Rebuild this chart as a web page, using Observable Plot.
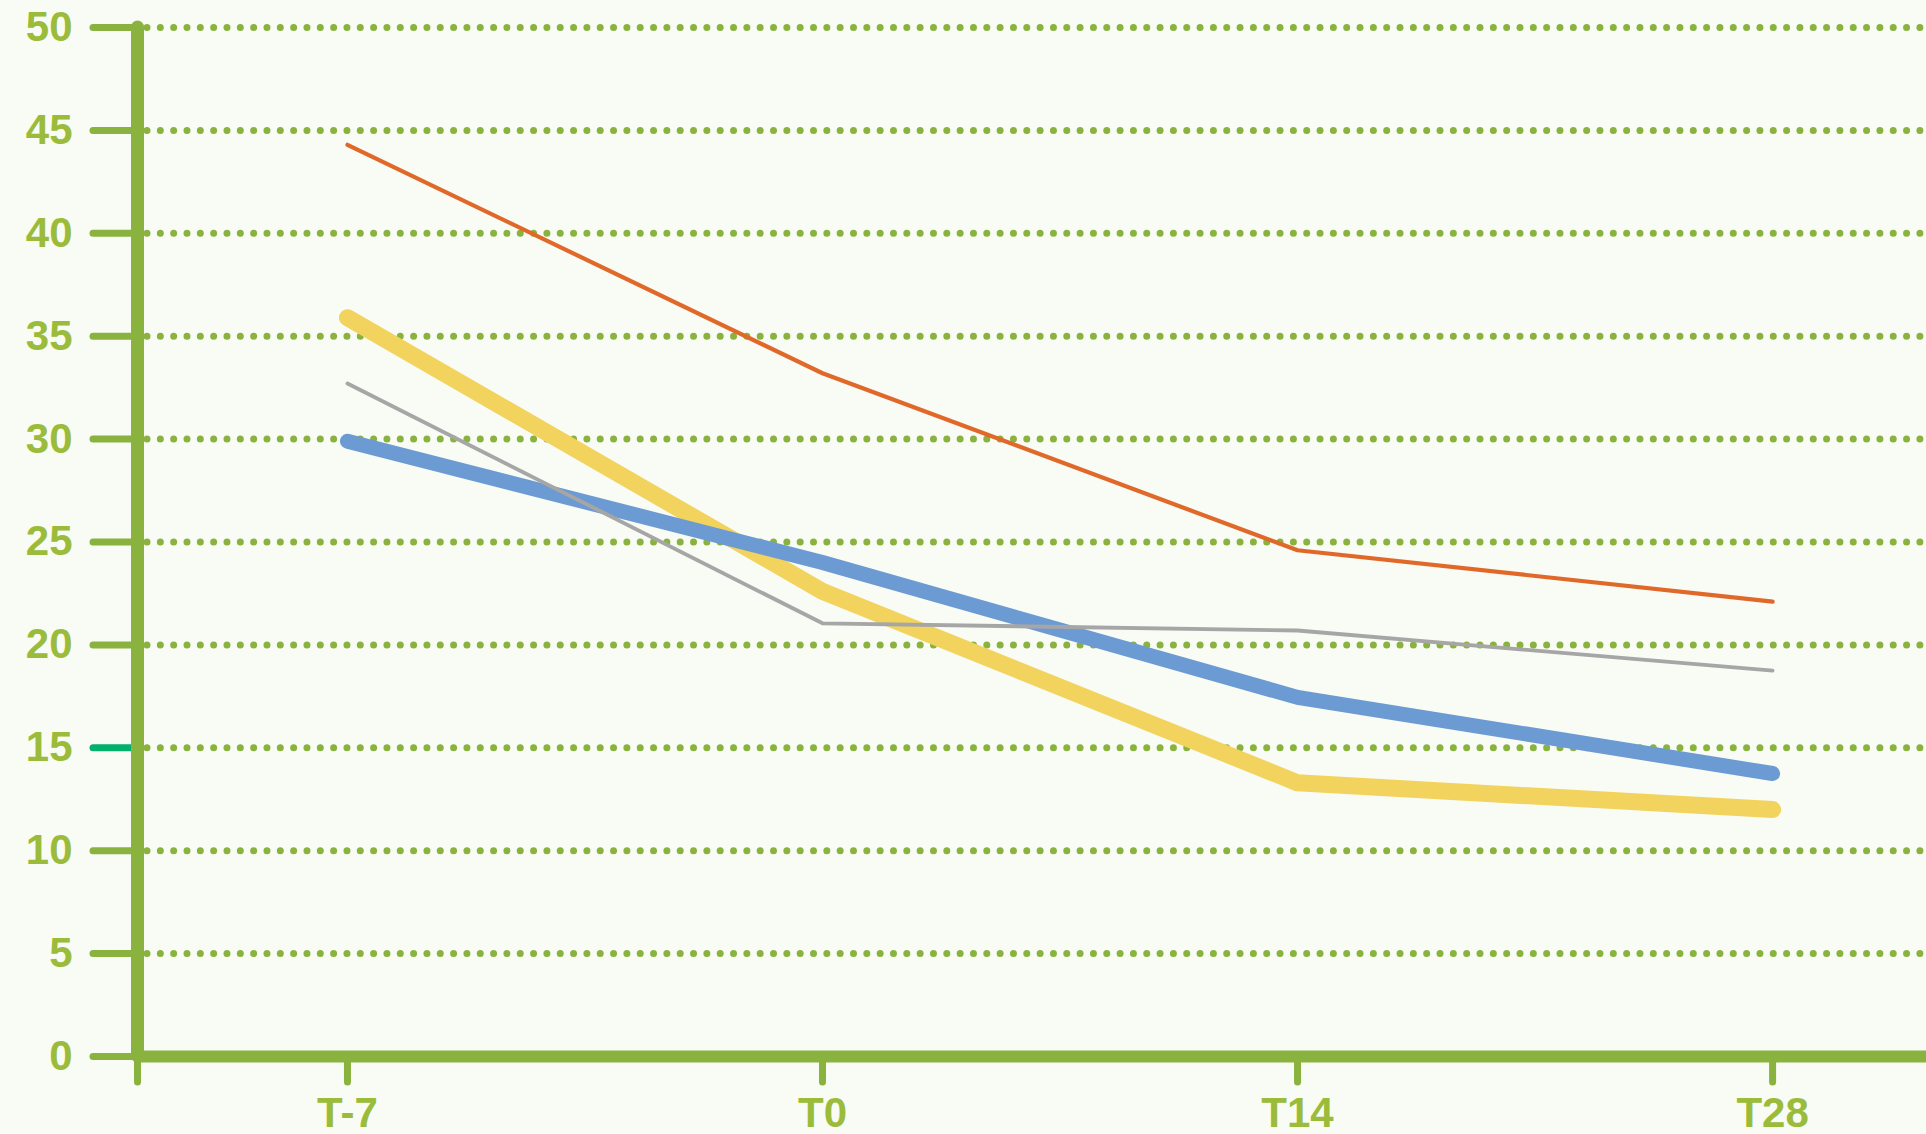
<!DOCTYPE html>
<html>
<head>
<meta charset="utf-8">
<script src="https://cdn.jsdelivr.net/npm/d3@7"></script>
<script src="https://cdn.jsdelivr.net/npm/@observablehq/plot@0.6"></script>
<style>
  html, body { margin: 0; padding: 0; background: #f9fbf5; overflow: hidden; }
  #chart svg { display: block; }
</style>
</head>
<body>
<div id="chart"></div>
<script>
// ---- data ----
const categories = ["T-7", "T0", "T14", "T28"];
const seriesOrange = [44.3, 33.2, 24.6, 22.1];
const seriesGray   = [32.7, 21.05, 20.7, 18.75];
const seriesYellow = [35.9, 22.6, 13.3, 12.0];
const seriesBlue   = [29.9, 24.0, 17.45, 13.75];
const yTicks = [0, 5, 10, 15, 20, 25, 30, 35, 40, 45, 50];
const highlightTick = 15;

// ---- styling ----
const axisGreen = "#89b33e";
const labelGreen = "#9abc3a";
const tealTick = "#00b06b";
const font = "'Liberation Sans', Arial, sans-serif";

const xMin = -0.442, xMax = 3.324;

const toRows = (vals) => vals.map((v, i) => ({ i, v }));

const plot = Plot.plot({
  width: 1926,
  height: 1134,
  marginLeft: 137,
  marginRight: 0,
  marginTop: 27,
  marginBottom: 78,
  style: { background: "#f9fbf5", fontFamily: font, overflow: "visible" },
  x: { type: "linear", domain: [xMin, xMax] },
  y: { type: "linear", domain: [0, 50] },
  marks: [
    // dotted gridlines
    Plot.ruleY(yTicks.filter(d => d > 0), {
      stroke: axisGreen, strokeWidth: 7, strokeDasharray: "0 13.33",
      strokeLinecap: "round", strokeDashoffset: -10
    }),
    // y tick marks
    Plot.axisY({
      ticks: yTicks.filter(d => d !== highlightTick), tickSize: 44, text: null,
      stroke: axisGreen, strokeWidth: 7, strokeLinecap: "round", label: null
    }),
    Plot.axisY({
      ticks: [highlightTick], tickSize: 44, text: null,
      stroke: tealTick, strokeWidth: 7, strokeLinecap: "round", label: null
    }),
    // y tick labels
    Plot.axisY({
      ticks: yTicks, tickSize: 0, tickPadding: 65, label: null,
      fill: labelGreen, fontSize: 42, fontWeight: "bold"
    }),
    // x ticks
    Plot.axisX({
      ticks: [xMin, 0, 1, 2, 3], tickSize: 26, tickPadding: 15, label: null,
      stroke: axisGreen, strokeWidth: 7, strokeLinecap: "round",
      fill: labelGreen, fontSize: 42, fontWeight: "bold",
      tickFormat: d => categories[d] ?? ""
    }),
    // series lines
    Plot.line(toRows(seriesYellow), { x: "i", y: "v", stroke: "#f2d35e", strokeWidth: 17, strokeLinecap: "round", strokeLinejoin: "round" }),
    Plot.line(toRows(seriesBlue),   { x: "i", y: "v", stroke: "#6b9bd2", strokeWidth: 15, strokeLinecap: "round", strokeLinejoin: "round" }),
    Plot.line(toRows(seriesGray),   { x: "i", y: "v", stroke: "#a6a6a6", strokeWidth: 3.8, strokeLinecap: "round", strokeLinejoin: "round" }),
    Plot.line(toRows(seriesOrange), { x: "i", y: "v", stroke: "#e0692a", strokeWidth: 4.2, strokeLinecap: "round", strokeLinejoin: "round" }),
    // axis lines
    Plot.ruleY([0], { stroke: axisGreen, strokeWidth: 12 }),
    Plot.ruleX([xMin], { y1: 0, y2: 50, stroke: axisGreen, strokeWidth: 13, strokeLinecap: "round" })
  ]
});
document.getElementById("chart").appendChild(plot);
</script>
</body>
</html>
